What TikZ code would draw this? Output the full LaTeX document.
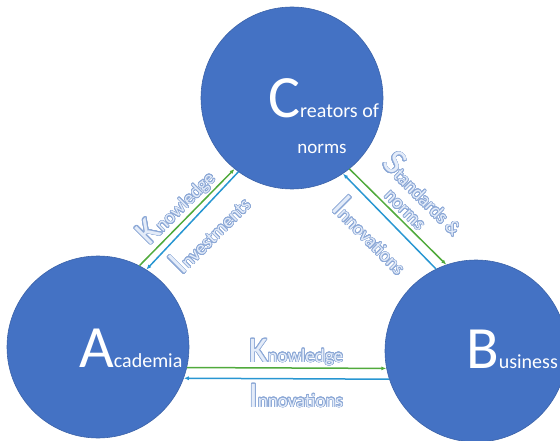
\documentclass[tikz,border=0pt]{standalone}
\usepackage{fontspec}
\setmainfont{Carlito}
\usepackage[copies]{contour}
\usetikzlibrary{arrows.meta}
\contourlength{0.65pt}
\contournumber{24}
\definecolor{hubblue}{RGB}{68,114,196}
\definecolor{flowgreen}{RGB}{80,170,60}
\definecolor{flowblue}{RGB}{40,150,210}
\definecolor{tagline}{RGB}{140,168,214}
\definecolor{tagfill}{RGB}{228,236,249}
\newcommand{\flowtag}[2]{\contour{tagline}{{\fontsize{36}{36}\selectfont #1}{\fontsize{19}{19}\selectfont #2}}}
\newcommand{\hubtag}[2]{{\fontsize{60}{60}\selectfont #1}{\fontsize{20}{20}\selectfont #2}}

\begin{document}
\begin{tikzpicture}[x=1pt,y=-1pt,
        hub/.style={circle,fill=hubblue,draw=hubblue!85!black,line width=.6pt,minimum size=182pt,inner sep=0pt},
        give/.style={flowgreen,line width=1.5pt,-{Latex[length=5pt,width=4pt]}},
        back/.style={flowblue,line width=1.5pt,-{Latex[length=5pt,width=4pt]}},
        flowtxt/.style={text=tagfill,inner sep=0pt},
        hubtxt/.style={text=white,inner sep=0pt}] % three actors
        \useasboundingbox (0,0) rectangle (560,441);
        \node[hub] (C) at (292,98) {};
        \node[hub] (A) at (98,347) {};
        \node[hub] (B) at (476,351) {};
        \node[hubtxt,anchor=base west] (Ct) at (268,118) {\hubtag{C}{reators of}};
        \node[hubtxt,anchor=base] (Cn) at (322,154) {\fontsize{19}{19}\selectfont norms};
        \node[hubtxt,anchor=base west] (At) at (79,367) {\hubtag{A}{cademia}};
        \node[hubtxt,anchor=base west] (Bt) at (466,368) {\hubtag{B}{usiness}};
        \draw[give] (A.63) -- (C.231);
        \draw[back] (C.234) -- (A.58);
        \draw[give] (C.-51) -- (B.109);
        \draw[back] (B.116) -- (C.-56);
        \draw[give] (A.-13) -- (B.191);
        \draw[back] (B.198) -- (A.-20);
        \node[flowtxt,rotate=45] (ack) at (176,206) {\flowtag{K}{nowledge}};
        \node[flowtxt,rotate=45] (aci) at (209,233) {\flowtag{I}{nvestments}};
        \node[flowtxt,rotate=-45] (cbs) at (425,193) {\flowtag{S}{tandards \&}};
        \node[flowtxt,rotate=-45] (cbn) at (404,211) {\contour{tagline}{\fontsize{19}{19}\selectfont norms}};
        \node[flowtxt,rotate=-45] (cbi) at (372,235) {\flowtag{I}{nnovations}};
        \node[flowtxt,anchor=base] (abk) at (296,362) {\flowtag{K}{nowledge}};
        \node[flowtxt,anchor=base] (abi) at (296,407) {\flowtag{I}{nnovations}};
\end{tikzpicture}
\end{document}
